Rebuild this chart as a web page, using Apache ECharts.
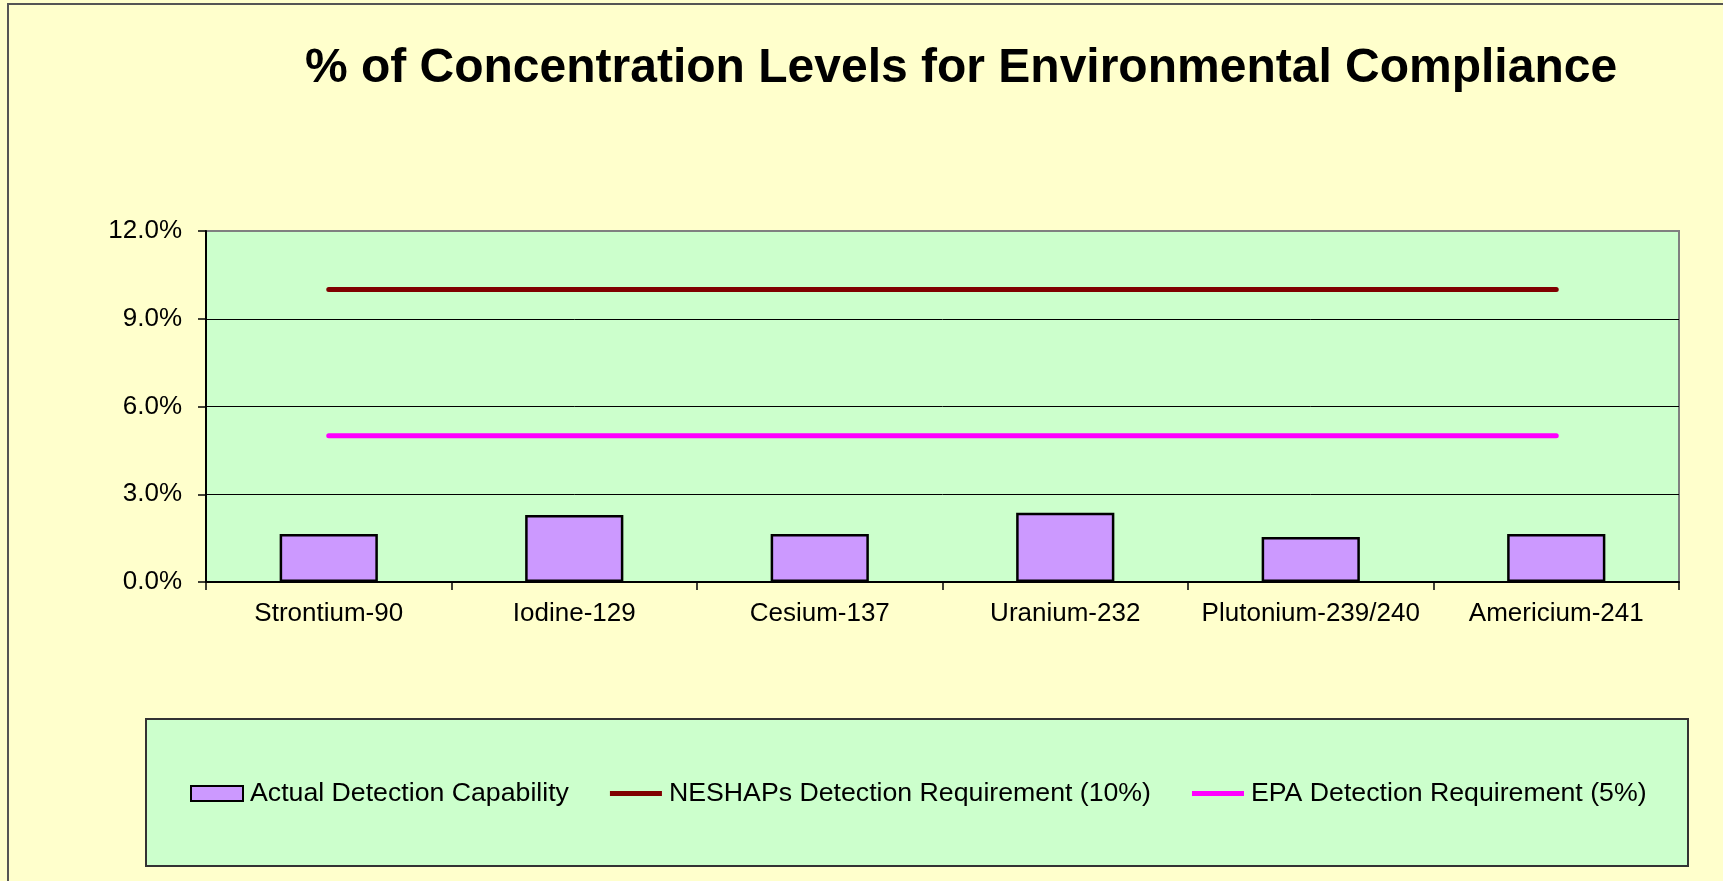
<!DOCTYPE html>
<html>
<head>
<meta charset="utf-8">
<script src="https://cdn.jsdelivr.net/npm/echarts@6/dist/echarts.min.js"></script>
<style>
html,body{margin:0;padding:0;background:#FFFFCC;}
#main{width:1723px;height:881px;}
</style>
</head>
<body>
<div id="main"></div>
<script>
const titleText = '% of Concentration Levels for Environmental Compliance';
const categories = ['Strontium-90', 'Iodine-129', 'Cesium-137', 'Uranium-232', 'Plutonium-239/240', 'Americium-241'];
const actualCapability = [1.64, 2.29, 1.64, 2.37, 1.54, 1.64];
const neshapsRequirement = [10, 10, 10, 10, 10, 10];
const epaRequirement = [5, 5, 5, 5, 5, 5];
const seriesNames = ['Actual Detection Capability', 'NESHAPs Detection Requirement (10%)', 'EPA Detection Requirement (5%)'];

const chart = echarts.init(document.getElementById('main'), null, {renderer: 'canvas'});
const font = 'Liberation Sans, Arial, sans-serif';
const lineIcon = 'path://M0 0 M0 5 L52 5 L52 10 L0 10 Z M52 15';
chart.setOption({
  backgroundColor: '#FFFFCC',
  animation: false,
  textStyle: {fontFamily: font},
  graphic: [
    {type: 'rect', z: -10, shape: {x: 8, y: 4, width: 1800, height: 1000},
     style: {fill: '#FFFFCC', stroke: '#555555', lineWidth: 2}},
    {type: 'rect', z: -5, shape: {x: 146, y: 719, width: 1542, height: 147},
     style: {fill: '#CCFFCC', stroke: '#333333', lineWidth: 2}}
  ],
  title: {
    text: titleText,
    left: 956, top: 40, textAlign: 'center',
    textStyle: {fontFamily: font, fontSize: 48, fontWeight: 'bold', color: '#000'}
  },
  legend: {
    left: 185, top: 775,
    itemWidth: 52, itemHeight: 15, itemGap: 41,
    textStyle: {fontFamily: font, fontSize: 26.7, color: '#000', padding: [0, 0, 0, 2]},
    data: [
      {name: seriesNames[0], icon: 'rect'},
      {name: seriesNames[1], icon: lineIcon},
      {name: seriesNames[2], icon: lineIcon}
    ]
  },
  grid: {
    left: 206, right: 44, top: 231, bottom: 299,
    show: true, backgroundColor: '#CCFFCC', borderColor: '#808080', borderWidth: 2,
    containLabel: false
  },
  xAxis: {
    type: 'category',
    data: categories,
    boundaryGap: true,
    axisLine: {show: true, lineStyle: {color: '#000', width: 2}},
    axisTick: {show: true, length: 8, lineStyle: {color: '#000', width: 1.5}},
    axisLabel: {fontFamily: font, fontSize: 26, color: '#000', margin: 19, interval: 0},
    splitLine: {show: false}
  },
  yAxis: {
    type: 'value',
    min: 0, max: 12, interval: 3,
    axisLine: {show: true, lineStyle: {color: '#000', width: 2}},
    axisTick: {show: true, length: 8, lineStyle: {color: '#000', width: 1.5}},
    axisLabel: {fontFamily: font, fontSize: 26, color: '#000', margin: 24,
      formatter: v => v.toFixed(1) + '%'},
    splitLine: {show: true, showMaxLine: false, lineStyle: {color: '#000', width: 1}}
  },
  series: [
    {
      name: seriesNames[0], type: 'bar', data: actualCapability,
      barCategoryGap: '60%',
      itemStyle: {color: '#CC99FF', borderColor: '#000', borderWidth: 2.5}
    },
    {
      name: seriesNames[1], type: 'line', data: neshapsRequirement,
      symbol: 'none', showSymbol: false,
      lineStyle: {color: '#800000', width: 5, cap: 'round'},
      itemStyle: {color: '#800000'}
    },
    {
      name: seriesNames[2], type: 'line', data: epaRequirement,
      symbol: 'none', showSymbol: false,
      lineStyle: {color: '#FF00FF', width: 5, cap: 'round'},
      itemStyle: {color: '#FF00FF'}
    }
  ]
});
</script>
</body>
</html>
